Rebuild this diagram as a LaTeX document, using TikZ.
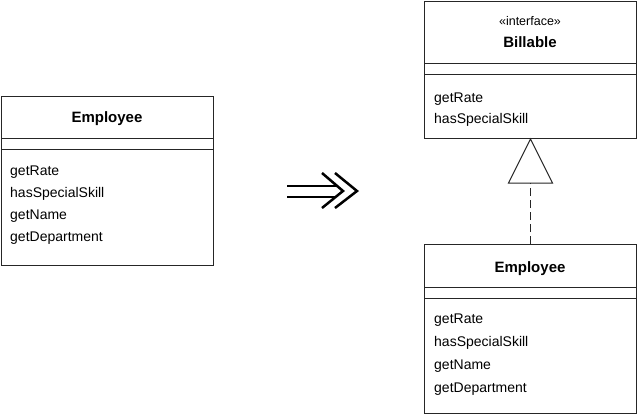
\documentclass[tikz,border=0pt]{standalone}
\usepackage{fontspec}
\setmainfont{Liberation Sans}
\begin{document}
\begin{tikzpicture}[x=1pt,y=-1pt,
  box/.style={draw=black!85, line width=1pt, inner sep=0pt, anchor=north west, minimum width=212pt},
  meth/.style={anchor=base west, inner sep=0pt, font=\fontsize{14}{16}\selectfont},
  title/.style={anchor=base, inner sep=0pt, font=\fontsize{15}{18}\selectfont\bfseries},
  stereo/.style={anchor=base, inner sep=0pt, font=\fontsize{12.5}{14}\selectfont},
  sep/.style={draw=black!85, line width=1pt},
  bigarrow/.style={line width=2.5pt, line cap=butt, line join=miter},
  realize/.style={draw=black!85, line width=1pt}]
\useasboundingbox (0,0) rectangle (638,416);

% left Employee
\node[box, minimum height=169pt] (e1) at (1,96) {};
\draw[sep] ([yshift=-42pt]e1.north west) -- ([yshift=-42pt]e1.north east);
\draw[sep] ([yshift=-53pt]e1.north west) -- ([yshift=-53pt]e1.north east);
\node[title] (e1t) at (107,122) {Employee};
\node[meth] (e1m1) at (10,175) {getRate};
\node[meth] (e1m2) at (10,197) {hasSpecialSkill};
\node[meth] (e1m3) at (10,219) {getName};
\node[meth] (e1m4) at (10,241) {getDepartment};

% transformation arrow
\draw[bigarrow] (287,186) -- (337,186);
\draw[bigarrow] (287,197) -- (336,197);
\draw[bigarrow] (322,173) -- (343,191) -- (322,208);
\draw[bigarrow] (335,173) -- (357,191) -- (335,208);

% Billable interface
\node[box, minimum height=137pt] (bill) at (424,1) {};
\draw[sep] ([yshift=-62pt]bill.north west) -- ([yshift=-62pt]bill.north east);
\draw[sep] ([yshift=-73pt]bill.north west) -- ([yshift=-73pt]bill.north east);
\node[stereo] (bst) at (530,25) {«interface»};
\node[title] (bt) at (530,47) {Billable};
\node[meth] (bm1) at (434,102) {getRate};
\node[meth] (bm2) at (434,123) {hasSpecialSkill};

% right Employee
\node[box, minimum height=169pt] (e2) at (424,244) {};
\draw[sep] ([yshift=-43pt]e2.north west) -- ([yshift=-43pt]e2.north east);
\draw[sep] ([yshift=-54pt]e2.north west) -- ([yshift=-54pt]e2.north east);
\node[title] (e2t) at (530,272) {Employee};
\node[meth] (e2m1) at (434,323) {getRate};
\node[meth] (e2m2) at (434,346) {hasSpecialSkill};
\node[meth] (e2m3) at (434,369) {getName};
\node[meth] (e2m4) at (434,392) {getDepartment};

% realization
\coordinate (tb) at ([yshift=-44pt]bill.south);
\draw[realize, dash pattern=on 8pt off 4pt] (e2.north) -- (tb);
\draw[realize, fill=white, line join=miter] (bill.south) -- ([xshift=-22pt]tb) -- ([xshift=22pt]tb) -- cycle;
\end{tikzpicture}
\end{document}
